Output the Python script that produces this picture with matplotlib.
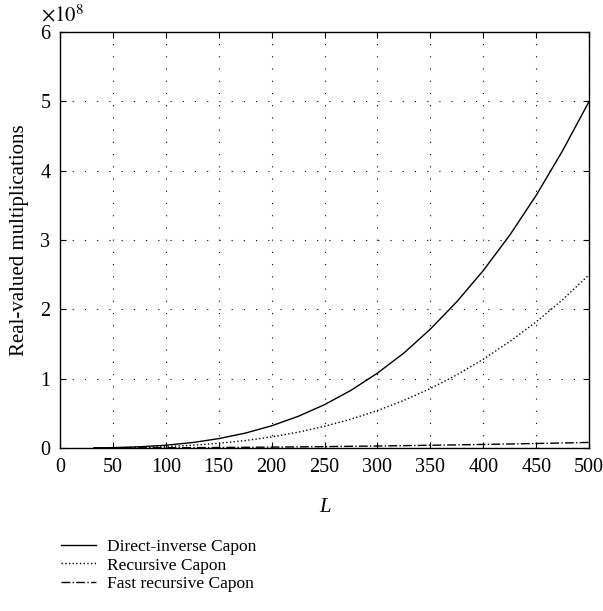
import numpy as np
import matplotlib
matplotlib.use("Agg")
import matplotlib.pyplot as plt
from matplotlib.ticker import FuncFormatter

plt.rcParams["font.family"] = ["Liberation Serif", "DejaVu Serif"]
plt.rcParams["mathtext.fontset"] = "stix"

# values
L = [32, 50, 75, 100, 125, 150, 175, 200, 225, 250, 275, 300,
     325, 350, 375, 400, 425, 450, 475, 500]
direct = [1.3e5, 5.0e5, 1.69e6, 4.0e6, 7.8e6, 1.35e7, 2.14e7, 3.2e7, 4.56e7, 6.25e7,
          8.32e7, 1.08e8, 1.37e8, 1.715e8, 2.11e8, 2.56e8, 3.07e8, 3.645e8, 4.29e8, 5.0e8]
recursive = [6.5e4, 2.5e5, 8.4e5, 2.0e6, 3.9e6, 6.75e6, 1.07e7, 1.6e7, 2.28e7, 3.13e7,
             4.16e7, 5.4e7, 6.87e7, 8.58e7, 1.055e8, 1.28e8, 1.535e8, 1.82e8, 2.14e8, 2.5e8]
fast = [3.3e4, 8.0e4, 1.8e5, 3.2e5, 5.0e5, 7.2e5, 9.8e5, 1.28e6, 1.62e6, 2.0e6,
        2.42e6, 2.88e6, 3.38e6, 3.92e6, 4.5e6, 5.12e6, 5.78e6, 6.48e6, 7.22e6, 8.0e6]

fig = plt.figure(figsize=(6.03, 6.11), dpi=100)
ax = fig.add_axes([0.0995, 0.2668, 0.8775, 0.6808])

ax.plot(L, direct, color="black", linestyle="-", linewidth=1.0, label="Direct-inverse Capon")
ax.plot(L, recursive, color="black", linestyle=":", linewidth=1.0, label="Recursive Capon")
ax.plot(L, fast, color="black", linestyle="-.", linewidth=1.0, label="Fast recursive Capon")

ax.set_xlim(0, 500)
ax.set_ylim(0, 6e8)
ax.set_xticks(np.arange(0, 501, 50))
ax.set_yticks(np.arange(0, 6.01e8, 1e8))
ax.yaxis.set_major_formatter(FuncFormatter(lambda v, p: f"{v/1e8:.0f}"))
ax.grid(True, color="black", linestyle=(0, (1, 10)), linewidth=0.8)
ax.tick_params(direction="in", top=True, right=True, labelsize=14.5, length=4, pad=7)
for s in ax.spines.values():
    s.set_linewidth(1.0)

ax.set_xlabel("L", fontsize=15, style="italic", labelpad=15)
ax.set_ylabel("Real-valued multiplications", fontsize=15, labelpad=8)
fig.text(0.068, 0.966, r"$\times10^{8}$", fontsize=15)

fig.legend(loc="upper left", bbox_to_anchor=(0.076, 0.144), frameon=False,
           fontsize=12.5, handlelength=2.0, labelspacing=0.15, handletextpad=0.6)

fig.savefig("out.png", dpi=100)
